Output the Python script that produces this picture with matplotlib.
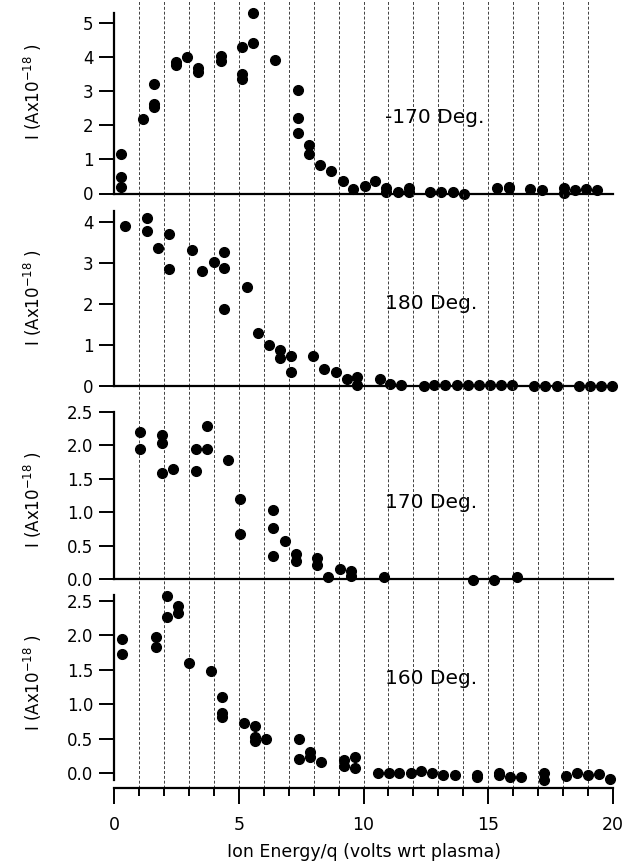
import numpy as np
import matplotlib
matplotlib.use("Agg")
import matplotlib.pyplot as plt
from matplotlib.ticker import MultipleLocator, FormatStrFormatter

# -170 deg
x1 = [0.26, 0.26, 0.26, 1.14, 1.58, 1.58, 1.58, 2.48, 2.48, 2.91, 3.35, 3.35,
      4.27, 4.27, 5.14, 5.14, 5.14, 5.56, 5.56, 6.44, 7.38, 7.38, 7.38, 7.81,
      7.81, 8.26, 8.69, 9.16, 9.57, 10.04, 10.47, 10.91, 10.91, 11.37, 11.81,
      11.81, 12.68, 13.12, 13.57, 14.04, 15.36, 15.82, 15.82, 16.69, 17.16,
      18.03, 18.03, 18.47, 18.93, 19.37]
y1 = [1.16, 0.49, 0.18, 2.18, 3.22, 2.63, 2.53, 3.86, 3.76, 4.0, 3.70, 3.58,
      4.04, 3.88, 4.31, 3.51, 3.37, 5.29, 4.41, 3.93, 3.05, 2.23, 1.79, 1.42,
      1.16, 0.84, 0.67, 0.37, 0.14, 0.23, 0.37, 0.17, 0.03, 0.03, 0.15,
      0.05, 0.05, 0.05, 0.05, 0.0, 0.15, 0.2, 0.15, 0.13, 0.1,
      0.17, 0.02, 0.1, 0.14, 0.1]

# 180 deg
x2 = [0.43, 1.31, 1.31, 1.74, 2.21, 2.21, 3.11, 3.52, 3.99, 4.39, 4.39, 4.39,
      5.32, 5.76, 6.21, 6.63, 6.63, 7.10, 7.10, 7.99, 8.43, 8.88, 9.32, 9.75,
      9.75, 10.67, 11.07, 11.5, 12.41, 12.84, 13.28, 13.75, 14.18, 14.62,
      15.06, 15.51, 15.96, 16.83, 17.27, 17.77, 18.63, 19.1, 19.53, 19.97]
y2 = [3.90, 4.10, 3.77, 3.35, 3.71, 2.85, 3.30, 2.79, 3.01, 3.25, 2.86, 1.87,
      2.41, 1.28, 1.0, 0.88, 0.67, 0.73, 0.33, 0.73, 0.41, 0.33, 0.18, 0.22,
      0.02, 0.16, 0.04, 0.02, 0.0, 0.02, 0.02, 0.02, 0.02, 0.02,
      0.02, 0.02, 0.02, -0.01, -0.01, 0.0, -0.01, -0.01, -0.01, -0.01]

# 170 deg
x3 = [1.03, 1.03, 1.93, 1.93, 1.93, 2.34, 3.27, 3.27, 3.70, 3.70, 4.58, 5.05,
      5.05, 6.37, 6.37, 6.37, 6.83, 7.28, 7.28, 8.15, 8.15, 8.59, 9.04, 9.49,
      9.49, 10.83, 14.38, 15.25, 16.16]
y3 = [2.20, 1.94, 2.16, 2.04, 1.59, 1.65, 1.95, 1.62, 2.29, 1.95, 1.78, 1.19,
      0.67, 1.03, 0.76, 0.35, 0.57, 0.37, 0.27, 0.32, 0.21, 0.03, 0.15, 0.12,
      0.05, 0.03, -0.01, -0.01, 0.03]

# 160 deg
x4 = [0.30, 0.30, 1.66, 1.66, 2.12, 2.12, 2.55, 2.55, 2.99, 3.88, 4.33, 4.33,
      4.33, 5.21, 5.65, 5.65, 5.65, 6.09, 7.42, 7.42, 7.87, 7.87, 8.30, 9.22,
      9.22, 9.67, 9.67, 10.56, 11.03, 11.43, 11.9, 12.3, 12.75, 13.19, 13.65,
      14.55, 14.55, 15.45, 15.45, 15.89, 16.33, 17.23, 17.23, 18.13, 18.57,
      19.01, 19.45, 19.9]
y4 = [1.95, 1.73, 1.98, 1.83, 2.57, 2.27, 2.43, 2.33, 1.60, 1.48, 1.11, 0.88,
      0.82, 0.73, 0.69, 0.52, 0.47, 0.50, 0.49, 0.21, 0.31, 0.23, 0.17, 0.19,
      0.10, 0.24, 0.08, 0.01, 0.01, 0.01, 0.01, 0.03, 0.0, -0.02, -0.02,
      -0.02, -0.05, 0.01, -0.03, -0.06, -0.06, 0.0, -0.09, -0.04, 0.0,
      -0.02, -0.01, -0.08]

xs = [x1, x2, x3, x4]
ys = [y1, y2, y3, y4]
labels = ["-170 Deg.", "180 Deg.", "170 Deg.", "160 Deg."]
label_y = [2.22, 2.01, 1.15, 1.38]

fig = plt.figure(figsize=(6.25, 8.61), dpi=100)
H = 861.0
left, width = 114.3 / 625, 498.5 / 625

# (top px, bottom px, ylim, spine bounds, tick step, label centre px)
panels = [
    (0, 193.5, (0, 5.684), (0, 5.31), 1.0, 92),
    (193.5, 386, (0, 4.684), (0, 4.26), 1.0, 298),
    (386, 579, (0, 2.885), (0, 2.5), 0.5, 500),
    (579, 788, (-0.213, 2.816), (-0.1, 2.584), 0.5, 683),
]

for i, (top, bot, ylim, bounds, step, lab_px) in enumerate(panels):
    ax = fig.add_axes([left, (H - bot) / H, width, (bot - top) / H])
    ax.patch.set_visible(False)  # let dots near zero spill over the next panel
    ax.plot(xs[i], ys[i], 'o', color='black', ms=7, clip_on=False, zorder=3)
    ax.set_xlim(0, 20)
    ax.set_ylim(*ylim)
    for s in ['top', 'right']:
        ax.spines[s].set_visible(False)
    ax.spines['left'].set_bounds(*bounds)
    ax.spines['left'].set_linewidth(1.6)
    ax.spines['bottom'].set_linewidth(1.6)
    ax.yaxis.set_major_locator(MultipleLocator(step))
    if step < 1:
        ax.yaxis.set_major_formatter(FormatStrFormatter('%.1f'))
    ax.set_yticks([t for t in np.arange(0, bounds[1] + 1e-6, step)])
    ax.tick_params(axis='y', direction='out', length=11, width=1.4, pad=4,
                   labelsize=12)
    ax.set_ylabel('I (Ax10$^{-18}$ )', fontsize=12)
    ax.yaxis.set_label_coords(-0.142, (bot - lab_px) / (bot - top))

    # vertical dashed grid at every volt
    for g in range(1, 21):
        ax.axvline(g, color='0.25', lw=0.7, ls=(0, (3, 2)), zorder=0)

    if i < 3:
        ax.set_xticks([])
    else:
        ax.xaxis.set_major_locator(MultipleLocator(5))
        ax.xaxis.set_minor_locator(MultipleLocator(1))
        ax.tick_params(axis='x', which='major', direction='out', length=11.5,
                       width=1.4, pad=9, labelsize=12.5)
        ax.tick_params(axis='x', which='minor', direction='out', length=5.8,
                       width=1.4)
        ax.set_xlabel('Ion Energy/q (volts wrt plasma)', fontsize=12.5,
                      labelpad=6)

    ax.text(10.87, label_y[i], labels[i], fontsize=14.5, ha='left',
            va='center')

fig.savefig('out.png', dpi=100)
